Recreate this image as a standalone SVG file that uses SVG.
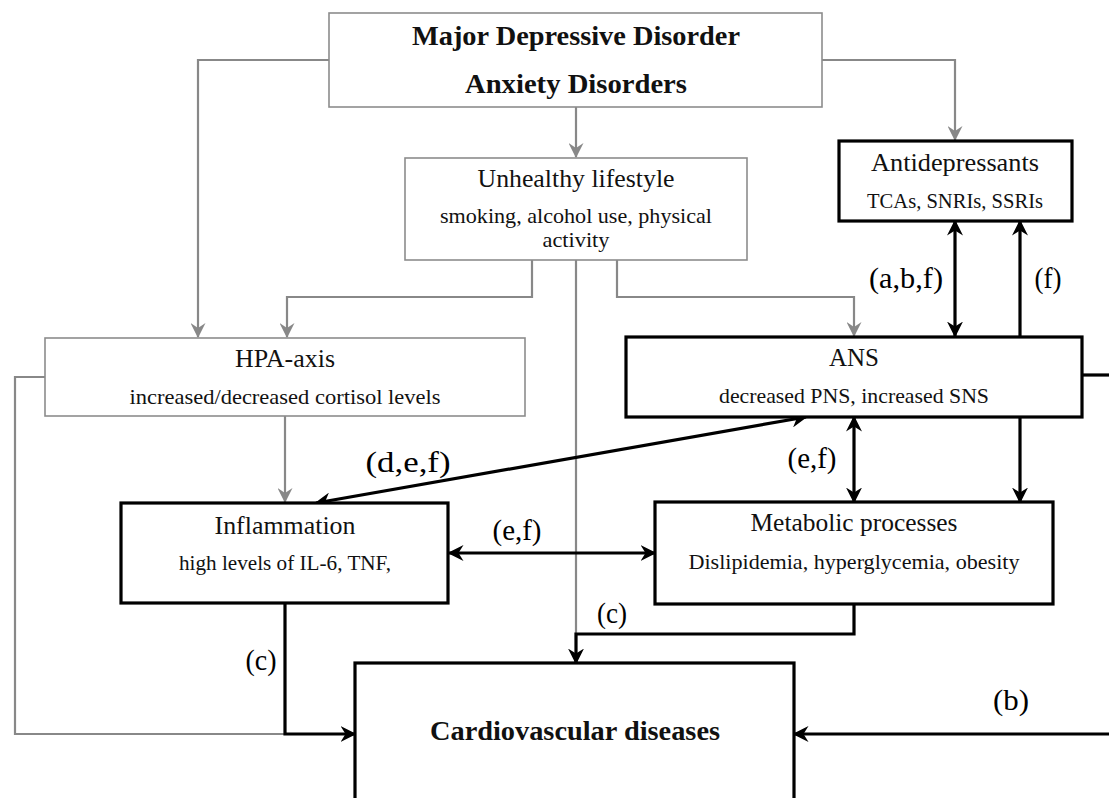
<svg xmlns="http://www.w3.org/2000/svg" width="1109" height="798" viewBox="0 0 1109 798" font-family="Liberation Serif, serif">
<style>
.gbox{fill:#fff;stroke:#8c8c8c;stroke-width:1.6}
.bbox{fill:#fff;stroke:#000;stroke-width:3.2}
.g{fill:none;stroke:#888;stroke-width:2.2}
.b{fill:none;stroke:#000;stroke-width:3.2}
text{font-family:"Liberation Serif","Times New Roman",serif;fill:#111;text-anchor:middle}
.t{font-size:26px}
.s{font-size:21px}
.h{font-size:28px;font-weight:bold}
.l{font-size:29px;fill:#000}
</style>
<defs>
<marker id="ab" viewBox="0 0 16 16" refX="14.5" refY="8" markerWidth="16" markerHeight="16" markerUnits="userSpaceOnUse" orient="auto-start-reverse"><path d="M0,0 L16,8 L0,16 L5,8 z" fill="#000"/></marker>
<marker id="ag" viewBox="0 0 15 15" refX="14" refY="7.5" markerWidth="15" markerHeight="15" markerUnits="userSpaceOnUse" orient="auto-start-reverse"><path d="M0,0 L15,7.5 L0,15 L5,7.5 z" fill="#888"/></marker>
</defs>
<g id="connectors">
<path class="g" d="M329,60 H198 V337" marker-end="url(#ag)"/>
<path class="g" d="M576,107 V157" marker-end="url(#ag)"/>
<path class="g" d="M822,60 H955 V140" marker-end="url(#ag)"/>
<path class="g" d="M532,260 V297 H287 V337" marker-end="url(#ag)"/>
<path class="g" d="M617,260 V297 H854 V336" marker-end="url(#ag)"/>
<path class="g" d="M576,260 V640"/>
<path class="g" d="M285,416 V502" marker-end="url(#ag)"/>
<path class="g" d="M45,377 H15 V734 H285"/>
<path class="b" d="M955,221 V336" marker-start="url(#ab)" marker-end="url(#ab)"/>
<path class="b" d="M1020,337 V221" marker-end="url(#ab)"/>
<path class="b" d="M1082,375 H1109"/>
<path class="b" d="M1020,417 V502" marker-end="url(#ab)"/>
<path class="b" d="M854,417 V502" marker-start="url(#ab)" marker-end="url(#ab)"/>
<path class="b" d="M806,417 L316,503" marker-start="url(#ab)" marker-end="url(#ab)"/>
<path class="b" d="M449,553 H655" marker-start="url(#ab)" marker-end="url(#ab)"/>
<path class="b" d="M285,603 V734 H355" marker-end="url(#ab)"/>
<path class="b" d="M854,604 V634 H576 V663" marker-end="url(#ab)"/>
<path class="b" d="M1109,734 H794" marker-end="url(#ab)"/>
<text class="l" x="906" y="288" textLength="74" lengthAdjust="spacingAndGlyphs">(a,b,f)</text>
<text class="l" x="1048" y="288" textLength="27" lengthAdjust="spacingAndGlyphs">(f)</text>
<text class="l" x="812" y="468" textLength="49" lengthAdjust="spacingAndGlyphs">(e,f)</text>
<text class="l" x="408" y="472" textLength="85" lengthAdjust="spacingAndGlyphs">(d,e,f)</text>
<text class="l" x="517" y="540" textLength="49" lengthAdjust="spacingAndGlyphs">(e,f)</text>
<text class="l" x="612" y="623" textLength="30" lengthAdjust="spacingAndGlyphs">(c)</text>
<text class="l" x="261" y="670" textLength="31" lengthAdjust="spacingAndGlyphs">(c)</text>
<text class="l" x="1011" y="710" textLength="36" lengthAdjust="spacingAndGlyphs">(b)</text>
</g>
<g id="mdd">
<rect class="gbox" x="329" y="13" width="493" height="94"/>
<text class="h" x="576" y="45" textLength="328" lengthAdjust="spacingAndGlyphs">Major Depressive Disorder</text>
<text class="h" x="576" y="93" textLength="222" lengthAdjust="spacingAndGlyphs">Anxiety Disorders</text>
</g>
<g id="lifestyle">
<rect class="gbox" x="405" y="158" width="342" height="102"/>
<text class="t" x="576" y="187" textLength="197" lengthAdjust="spacingAndGlyphs">Unhealthy lifestyle</text>
<text class="s" x="576" y="223" textLength="272" lengthAdjust="spacingAndGlyphs">smoking, alcohol use, physical</text>
<text class="s" x="576" y="247" textLength="67" lengthAdjust="spacingAndGlyphs">activity</text>
</g>
<g id="antidepressants">
<rect class="bbox" x="839" y="141" width="233" height="80"/>
<text class="t" x="955" y="171" textLength="168" lengthAdjust="spacingAndGlyphs">Antidepressants</text>
<text class="s" x="955" y="208" textLength="176" lengthAdjust="spacingAndGlyphs">TCAs, SNRIs, SSRIs</text>
</g>
<g id="hpa">
<rect class="gbox" x="45" y="338" width="480" height="78"/>
<text class="t" x="285" y="367" textLength="100" lengthAdjust="spacingAndGlyphs">HPA-axis</text>
<text class="s" x="285" y="404" textLength="311" lengthAdjust="spacingAndGlyphs">increased/decreased cortisol levels</text>
</g>
<g id="ans">
<rect class="bbox" x="626" y="337" width="456" height="80"/>
<text class="t" x="854" y="366" textLength="50" lengthAdjust="spacingAndGlyphs">ANS</text>
<text class="s" x="854" y="403" textLength="270" lengthAdjust="spacingAndGlyphs">decreased PNS, increased SNS</text>
</g>
<g id="inflammation">
<rect class="bbox" x="121" y="503" width="327" height="100"/>
<text class="t" x="285" y="534" textLength="141" lengthAdjust="spacingAndGlyphs">Inflammation</text>
<text class="s" x="285" y="570" textLength="212" lengthAdjust="spacingAndGlyphs">high levels of IL-6, TNF,</text>
</g>
<g id="metabolic">
<rect class="bbox" x="655" y="502" width="398" height="102"/>
<text class="t" x="854" y="531" textLength="207" lengthAdjust="spacingAndGlyphs">Metabolic processes</text>
<text class="s" x="854" y="569" textLength="331" lengthAdjust="spacingAndGlyphs">Dislipidemia, hyperglycemia, obesity</text>
</g>
<g id="cvd">
<rect class="bbox" x="355" y="663" width="439" height="160"/>
<text class="h" x="575" y="740" textLength="290" lengthAdjust="spacingAndGlyphs">Cardiovascular diseases</text>
</g>
</svg>
